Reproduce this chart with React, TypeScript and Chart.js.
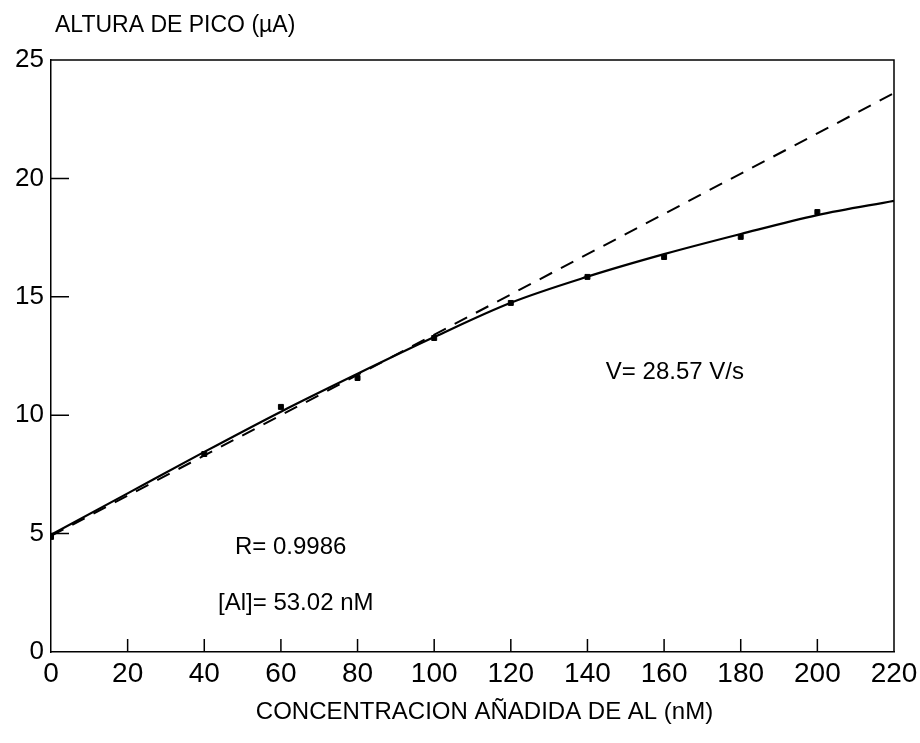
import React, { useEffect, useRef } from "react";
import { Chart, registerables } from "chart.js";

Chart.register(...registerables);

// ---- data ----
const measuredX = [0, 40, 60, 80, 100, 120, 140, 160, 180, 200];
const measuredY = [4.86, 8.36, 10.35, 11.57, 13.26, 14.74, 15.84, 16.68, 17.53, 18.58];

const fitX = [0, 20, 40, 60, 80, 100, 120, 140, 160, 180, 200, 220];
const fitY = [4.95, 6.7, 8.45, 10.15, 11.75, 13.3, 14.75, 15.85, 16.8, 17.65, 18.45, 19.05];

const linearX = [0, 220];
const linearY = [4.9, 23.6];

const xTicks = [0, 20, 40, 60, 80, 100, 120, 140, 160, 180, 200, 220];
const yTicks = [0, 5, 10, 15, 20, 25];

const yAxisTitle = "ALTURA DE PICO (µA)";
const xAxisTitle = "CONCENTRACION AÑADIDA DE AL (nM)";
const noteTexts = ["R= 0.9986", "[Al]= 53.02 nM", "V= 28.57 V/s"];

const FONT = "'Liberation Sans', Arial, Helvetica, sans-serif";
const NARROW = "'Liberation Sans Narrow', 'Liberation Sans', Arial, sans-serif";

const zip = (xs: number[], ys: number[]) => xs.map((x, i) => ({ x, y: ys[i] }));

const framePlugin = {
  id: "frame",
  afterDraw(chart: any) {
    const { ctx, chartArea } = chart;
    const xs = chart.scales.x;
    const ys = chart.scales.y;
    const { left, right, top, bottom } = chartArea;
    ctx.save();
    ctx.strokeStyle = "#000";
    ctx.lineWidth = 1.5;
    // top and right frame lines
    ctx.beginPath();
    ctx.moveTo(left, top);
    ctx.lineTo(right, top);
    ctx.lineTo(right, bottom);
    ctx.stroke();
    // inward ticks
    ctx.beginPath();
    xTicks.slice(1, -1).forEach((v) => {
      const px = xs.getPixelForValue(v);
      ctx.moveTo(px, bottom);
      ctx.lineTo(px, bottom - 13);
    });
    yTicks.slice(1, -1).forEach((v) => {
      const py = ys.getPixelForValue(v);
      ctx.moveTo(left, py);
      ctx.lineTo(left + 18, py);
    });
    ctx.stroke();

    ctx.fillStyle = "#000";
    ctx.textBaseline = "middle";

    // y axis title (horizontal, above the plot)
    ctx.textAlign = "left";
    ctx.font = `23px ${FONT}`;
    ctx.fillText(yAxisTitle, left + 4, top - 34);

    // x axis title
    ctx.textAlign = "center";
    ctx.font = `24px ${FONT}`;
    ctx.fillText(xAxisTitle, (left + right) / 2 + 12, bottom + 60);

    // annotations placed in data coordinates
    const notePos = [
      [48, 4.43],
      [43.6, 2.07],
      [144.8, 11.82],
    ];
    ctx.textAlign = "left";
    ctx.font = `24px ${FONT}`;
    noteTexts.forEach((t, i) => {
      ctx.fillText(t, xs.getPixelForValue(notePos[i][0]), ys.getPixelForValue(notePos[i][1]));
    });
    ctx.restore();
  },
};

export default function App() {
  const ref = useRef<HTMLCanvasElement>(null);

  useEffect(() => {
    if (!ref.current) return;
    const chart = new Chart(ref.current, {
      type: "scatter",
      data: {
        datasets: [
          {
            label: "lineal",
            data: zip(linearX, linearY),
            showLine: true,
            borderColor: "#000",
            borderWidth: 2,
            borderDash: [14, 10],
            pointRadius: 0,
            fill: false,
          },
          {
            label: "ajuste",
            data: zip(fitX, fitY),
            showLine: true,
            borderColor: "#000",
            borderWidth: 2.2,
            cubicInterpolationMode: "monotone",
            pointRadius: 0,
            fill: false,
          },
          {
            label: "medidas",
            data: zip(measuredX, measuredY),
            showLine: false,
            pointStyle: "rect",
            pointRadius: 3.5,
            backgroundColor: "#000",
            borderColor: "#000",
          },
        ],
      },
      options: {
        animation: false,
        responsive: true,
        maintainAspectRatio: false,
        layout: { padding: { top: 60, right: 26, left: 0, bottom: 0 } },
        plugins: {
          legend: { display: false },
          tooltip: { enabled: false },
        },
        scales: {
          x: {
            type: "linear",
            min: 0,
            max: 220,
            afterBuildTicks: (scale: any) => {
              scale.ticks = xTicks.map((v) => ({ value: v }));
            },
            afterFit: (scale: any) => {
              scale.height = 91;
              scale.paddingLeft = 0;
              scale.paddingRight = 0;
            },
            grid: { display: false, drawTicks: false },
            border: { display: true, color: "#000", width: 1.5 },
            ticks: {
              padding: 5,
              color: "#000",
              font: { family: NARROW, size: 28 },
              maxRotation: 0,
              autoSkip: false,
            },
          },
          y: {
            type: "linear",
            min: 0,
            max: 25,
            afterBuildTicks: (scale: any) => {
              scale.ticks = yTicks.map((v) => ({ value: v }));
            },
            afterFit: (scale: any) => {
              scale.width = 51;
              scale.paddingTop = 0;
              scale.paddingBottom = 0;
            },
            grid: { display: false, drawTicks: false },
            border: { display: true, color: "#000", width: 1.5 },
            ticks: {
              padding: 7,
              color: "#000",
              font: { family: FONT, size: 26 },
              autoSkip: false,
            },
          },
        },
      },
      plugins: [framePlugin],
    } as any);
    return () => chart.destroy();
  }, []);

  return (
    <div style={{ position: "fixed", left: 0, top: 0, width: 920, height: 743, background: "#fff" }}>
      <canvas ref={ref} />
    </div>
  );
}
